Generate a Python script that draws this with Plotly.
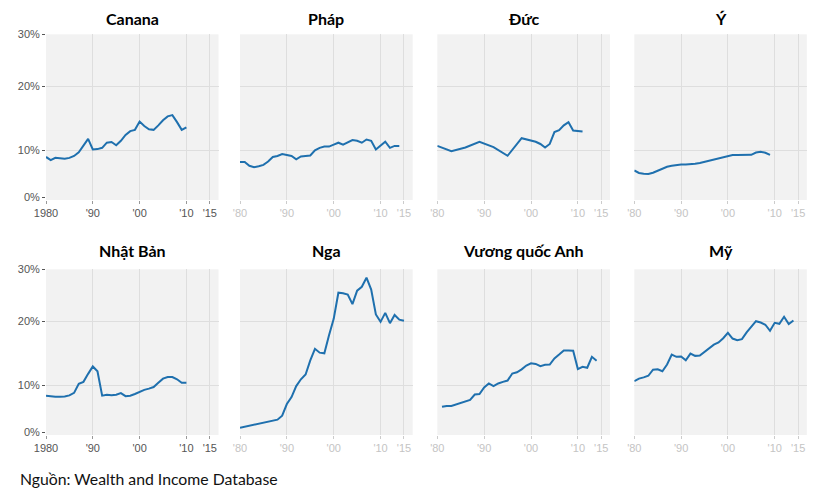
import plotly.graph_objects as go
import numpy as np

# ---------------- data (top 1% income share, %) ----------------
titles = ["Canana", "Pháp", "Đức", "Ý", "Nhật Bản", "Nga", "Vương quốc Anh", "Mỹ"]

canada_years = list(range(1980, 2011))
canada_vals = [8.6, 7.9, 8.4, 8.3, 8.2, 8.4, 8.8, 9.6, 10.8, 11.8, 10.15, 10.2, 10.4, 11.2, 11.3,
               10.8, 11.5, 12.4, 13.0, 13.2, 14.5, 13.8, 13.3, 13.2, 13.9, 14.7, 15.3, 15.5, 14.4,
               13.2, 13.6]

france_years = list(range(1980, 2015))
france_vals = [7.5, 7.5, 6.7, 6.4, 6.6, 6.9, 7.6, 8.6, 8.8, 9.2, 9.0, 8.8, 8.1, 8.7, 8.8, 8.9,
               10.0, 10.4, 10.6, 10.6, 10.9, 11.2, 10.9, 11.2, 11.6, 11.5, 11.2, 11.7, 11.5, 10.15,
               10.8, 11.35, 10.4, 10.7, 10.7]

germany_years = [1980, 1983, 1986, 1989, 1992, 1995, 1998, 2001, 2002, 2003, 2004, 2005, 2006,
                 2007, 2008, 2009, 2011]
germany_vals = [10.7, 9.85, 10.45, 11.35, 10.5, 8.85, 11.9, 11.35, 11.0, 10.45, 11.0, 12.85,
                13.15, 13.9, 14.4, 13.1, 12.95]

italy_years = list(range(1980, 2010))
italy_vals = [5.7, 5.15, 5.0, 4.95, 5.2, 5.65, 6.05, 6.5, 6.7, 6.9, 6.95, 6.95, 7.0, 7.15, 7.3,
              7.55, 7.8, 8.05, 8.35, 8.55, 8.85, 9.0, 9.0, 9.05, 9.0, 9.05, 9.55, 9.7, 9.5, 9.05]

japan_years = list(range(1980, 2011))
japan_vals = [7.8, 7.65, 7.55, 7.55, 7.6, 7.85, 8.4, 10.25, 10.55, 11.8, 12.95, 12.2, 7.8, 8.0,
              7.9, 8.0, 8.35, 7.7, 7.8, 8.15, 8.65, 9.05, 9.3, 9.65, 10.4, 11.05, 11.3, 11.3,
              10.95, 10.4, 10.4]

russia_years = [1980, 1985, 1988] + list(range(1989, 2016))
russia_vals = [0.9, 2.0, 2.65, 3.5, 6.0, 7.5, 9.85, 10.95, 11.7, 13.9, 15.7, 15.1, 15.0, 17.8,
               20.45, 25.5, 25.4, 25.15, 23.3, 25.9, 26.65, 28.4, 26.1, 21.3, 19.9, 21.6, 19.7,
               21.2, 20.3, 20.1]

uk_years = list(range(1981, 2015))
uk_vals = [5.4, 5.6, 5.6, 5.95, 6.35, 6.55, 6.9, 8.05, 8.15, 9.55, 10.3, 9.85, 10.3, 10.55,
           10.75, 11.85, 12.05, 12.5, 13.1, 13.45, 13.35, 13.0, 13.2, 13.25, 14.2, 14.8, 15.45,
           15.45, 15.4, 12.55, 12.9, 12.75, 14.45, 13.85]

usa_years = list(range(1980, 2015))
usa_vals = [10.65, 11.05, 11.25, 11.5, 12.45, 12.5, 12.2, 13.25, 14.8, 14.45, 14.5, 13.9, 14.95,
            14.6, 14.65, 15.2, 15.75, 16.35, 16.7, 17.35, 18.2, 17.3, 17.05, 17.2, 18.25, 19.2,
            20.0, 19.8, 19.45, 18.5, 19.75, 19.6, 20.85, 19.55, 20.15]

series = [(canada_years, canada_vals), (france_years, france_vals), (germany_years, germany_vals),
          (italy_years, italy_vals), (japan_years, japan_vals), (russia_years, russia_vals),
          (uk_years, uk_vals), (usa_years, usa_vals)]

y_tick_pct = [0, 10, 20, 30]
y_tick_text = ["0%", "10%", "20%", "30%"]
x_tick_years = [1980, 1990, 2000, 2010, 2015]
x_text_first = ["1980", "'90", "'00", "'10", "'15"]
x_text_other = ["'80", "'90", "'00", "'10", "'15"]

# The source chart uses an uneven vertical scale; map percentages onto it.
scale_pct = [0, 10, 20, 30]
scale_pos = [0, 46.6, 110.8, 162.6]


def yscale(v):
    return np.interp(v, scale_pct, scale_pos)


# ---------------- layout ----------------
W, H = 833, 490
col_px = [(46, 218.5), (240, 412.7), (437.3, 610), (634.3, 806.8)]
row_px = [(34.3, 200), (269.3, 435)]
title_y_px = [18, 250]

LINE = "#1f70ae"
GRID = "#dedede"
BG = "#f2f2f2"
DARK = "#555555"
LIGHT = "#c4c4c4"

fig = go.Figure()
annotations = []
layout_axes = {}

for i, ((yrs, vals), title) in enumerate(zip(series, titles)):
    r, c = divmod(i, 4)
    n = "" if i == 0 else str(i + 1)
    fig.add_trace(go.Scatter(
        x=yrs, y=yscale(vals), mode="lines",
        line=dict(color=LINE, width=2),
        xaxis="x" + n, yaxis="y" + n, showlegend=False, hoverinfo="skip"))

    x0, x1 = col_px[c]
    t0, t1 = row_px[r]
    first_col = (c == 0)
    layout_axes["xaxis" + n] = dict(
        domain=[x0 / W, x1 / W], anchor="y" + n, automargin=False,
        range=[1980, 2016.86], tickmode="array", tickvals=x_tick_years,
        ticktext=x_text_first if first_col else x_text_other,
        showgrid=True, gridcolor=GRID, gridwidth=1, zeroline=False,
        ticks="outside", ticklen=3, tickcolor="#cccccc" if not first_col else "#999999",
        tickfont=dict(family="Liberation Sans, Arial", size=11,
                      color=DARK if first_col else LIGHT),
        showline=False, fixedrange=True)
    layout_axes["yaxis" + n] = dict(
        domain=[1 - t1 / H, 1 - t0 / H], anchor="x" + n, automargin=False,
        range=[-3, 162.7], tickmode="array", tickvals=list(yscale(y_tick_pct)),
        ticktext=y_tick_text, showticklabels=first_col,
        ticks="outside" if first_col else "", ticklen=3, tickcolor=DARK,
        tickfont=dict(family="Liberation Sans, Arial", size=11, color=DARK),
        showgrid=False, zeroline=False, showline=False,
        minor=dict(tickmode="array", tickvals=list(yscale(y_tick_pct[1:])),
                   showgrid=True, gridcolor=GRID, gridwidth=1, ticks=""),
        fixedrange=True)

    annotations.append(dict(
        text="<b>" + title + "</b>", x=(x0 + x1) / 2 / W, y=1 - title_y_px[r] / H,
        xref="paper", yref="paper", xanchor="center", yanchor="middle",
        showarrow=False, font=dict(family="Lato, Open Sans, sans-serif", size=16, color="#000")))

annotations.append(dict(
    text="Nguồn: Wealth and Income Database", x=18 / W, y=1 - 478 / H,
    xref="paper", yref="paper", xanchor="left", yanchor="middle", showarrow=False,
    font=dict(family="Lato, Open Sans, sans-serif", size=15.8, color="#111")))

fig.update_layout(
    width=W, height=H, margin=dict(l=0, r=0, t=0, b=0, autoexpand=False),
    paper_bgcolor="white", plot_bgcolor=BG,
    annotations=annotations, **layout_axes)

fig.write_html("out.html", config={"displayModeBar": False},
               post_script="document.body.style.margin='0';document.body.style.overflow='hidden';")
